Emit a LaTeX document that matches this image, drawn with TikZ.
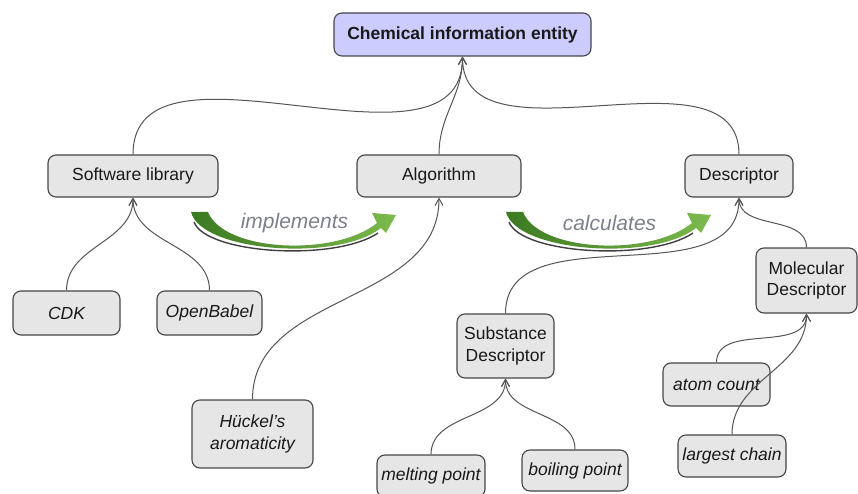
\documentclass[tikz,border=0pt]{standalone}
\usepackage{fontspec}
\setmainfont{Liberation Sans}
\usetikzlibrary{arrows.meta}
\definecolor{boxfill}{RGB}{230,230,230}
\definecolor{boxline}{RGB}{70,70,70}
\definecolor{rootfill}{RGB}{204,204,255}
\definecolor{linkgray}{RGB}{85,85,85}
\definecolor{labelgray}{RGB}{125,128,138}
\definecolor{greendark}{RGB}{60,122,34}
\definecolor{greenlight}{RGB}{125,186,78}
\begin{document}
\begin{tikzpicture}[x=1pt,y=-1pt,
  box/.style={draw=boxline,fill=boxfill,line width=1.1pt,rounded corners=8pt,
    align=center,inner sep=0pt,font=\fontsize{17.5}{21.5}\selectfont,text=black!90},
  leaf/.style={box,font=\fontsize{17.5}{21.5}\selectfont\itshape},
  link/.style={draw=linkgray,line width=1pt,-{Straight Barb[length=7pt,width=8pt]}},
  verb/.style={font=\fontsize{21}{24}\selectfont\itshape,text=labelgray}]
\useasboundingbox (0,0) rectangle (858,494);

% root
\node[box,fill=rootfill,minimum width=257pt,minimum height=43pt,
  font=\fontsize{17.5}{20}\selectfont\bfseries] (chem) at (462.5,34.5) {Chemical information entity};

% second level
\node[box,minimum width=170pt,minimum height=42pt] (soft) at (133,176) {Software library};
\node[box,minimum width=164pt,minimum height=42pt] (algo) at (439,176) {Algorithm};
\node[box,minimum width=108pt,minimum height=42pt] (desc) at (739,176) {Descriptor};

% instances and sub-classes
\node[leaf,minimum width=107pt,minimum height=44pt] (cdk) at (66.5,313) {CDK};
\node[leaf,minimum width=105pt,minimum height=44pt] (ob) at (209.5,313) {OpenBabel};
\node[leaf,minimum width=121pt,minimum height=68pt] (huckel) at (252.5,434) {Hückel's\\aromaticity};
\node[box,minimum width=97pt,minimum height=64pt] (subst) at (505.5,346) {Substance\\Descriptor};
\node[box,minimum width=101pt,minimum height=65pt] (mol) at (806.5,280.5) {Molecular\\Descriptor};
\node[leaf,minimum width=108pt,minimum height=42pt] (melt) at (431,476) {melting point};
\node[leaf,minimum width=106pt,minimum height=41pt] (boil) at (575,470.5) {boiling point};
\node[leaf,minimum width=107pt,minimum height=43pt] (atom) at (716.5,384.5) {atom count};
\node[leaf,minimum width=108pt,minimum height=42pt] (chain) at (732,456) {largest chain};

% hierarchy links
\draw[link] (soft.north) to[out=90,in=-90] (chem.south);
\draw[link] (algo.north) to[out=90,in=-90] (chem.south);
\draw[link] (desc.north) to[out=90,in=-90] (chem.south);
\draw[link] (cdk.north) to[out=90,in=-90] (soft.south);
\draw[link] (ob.north) to[out=90,in=-90] (soft.south);
\draw[link] (huckel.north) to[out=90,in=-90] (algo.south);
\draw[link] (subst.north) to[out=90,in=-90] (desc.south);
\draw[link] (mol.north) to[out=90,in=-90] (desc.south);
\draw[link] (melt.north) to[out=90,in=-90] (subst.south);
\draw[link] (boil.north) to[out=90,in=-90] (subst.south);
\draw[link] (atom.north) to[out=90,in=-90] (mol.south);
\draw[link] (chain.north) to[out=90,in=-90] (mol.south);

% curved relation arrows
\foreach \dx/\word/\nm in {0/implements/impl,315/calculates/calc}{
  \begin{scope}[xshift=\dx pt]
    % dark rim along the underside
    \draw[black!75,line width=1.4pt]
      (194,222) .. controls (206,254) and (335,262) .. (378,233);
    \shade[left color=greendark,right color=greenlight]
      (191,212) .. controls (201,252) and (338,262) .. (381,228)
      -- (386,233) -- (396,215) -- (372,213) -- (377,223)
      .. controls (335,257) and (224,252) .. (208,212) -- cycle;
    \node[verb] (\nm) at (294.5,223) {\word};
  \end{scope}
}
\end{tikzpicture}
\end{document}
